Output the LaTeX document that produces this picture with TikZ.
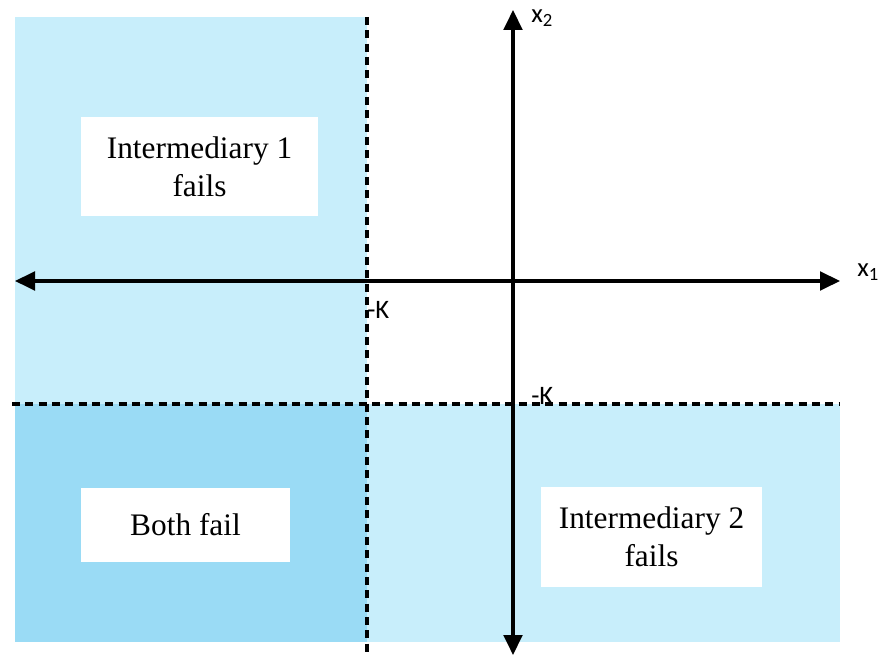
\documentclass[tikz,border=0pt]{standalone}
\usepackage{fontspec}
\setmainfont{Liberation Serif}
\newfontfamily\lblfont{Carlito}
\usetikzlibrary{arrows.meta}
\definecolor{lightreg}{HTML}{C8EEFB}
\definecolor{darkreg}{HTML}{9ADBF5}
\begin{document}
\begin{tikzpicture}[x=0.75pt,y=-0.75pt,
  region/.style={draw=none},
  axis/.style={line width=2.6pt,{Triangle[length=15pt,width=14pt]}-{Triangle[length=15pt,width=14pt]}},
  bound/.style={line width=2.4pt,dash pattern=on 6pt off 4pt},
  textbox/.style={fill=white,inner sep=0pt,align=center,font=\fontsize{23.5}{28.5}\selectfont},
  lbl/.style={font=\lblfont\fontsize{20}{22}\selectfont,inner sep=0pt}]
\useasboundingbox (0,0) rectangle (878,655);
% regions
\fill[lightreg] (15,17) rectangle (367,404);
\fill[darkreg] (15,404) rectangle (367,642);
\fill[lightreg] (367,404) rectangle (840,642);
% text boxes
\node[textbox,minimum width=237*0.75pt,minimum height=99*0.75pt] (i1) at (199.5,166.5) {Intermediary 1\\fails};
\node[textbox,minimum width=209*0.75pt,minimum height=74*0.75pt] (bf) at (185.5,525) {Both fail};
\node[textbox,minimum width=221*0.75pt,minimum height=100*0.75pt] (i2) at (651.5,537) {Intermediary 2\\fails};
% coordinates
\coordinate (xl) at (15,281);
\coordinate (xr) at (840,281);
\coordinate (yt) at (513,10);
\coordinate (yb) at (513,655);
\coordinate (vt) at (367,17);
\coordinate (vb) at (367,655);
\coordinate (hl) at (12,404);
\coordinate (hr) at (840,404);
% dashed boundaries
\draw[bound] (vt) -- (vb);
\draw[bound] (hl) -- (hr);
% axes
\draw[axis] (xl) -- (xr);
\draw[axis] (yb) -- (yt);
% labels
\node[lbl,anchor=west] (x1) at (857,272) {x\textsubscript{1}};
\node[lbl,anchor=west] (x2) at (531,18) {x\textsubscript{2}};
\node[lbl,anchor=west] (k1) at (367,310) {-K};
\node[lbl,anchor=west] (k2) at (531,396) {-K};
\end{tikzpicture}
\end{document}
